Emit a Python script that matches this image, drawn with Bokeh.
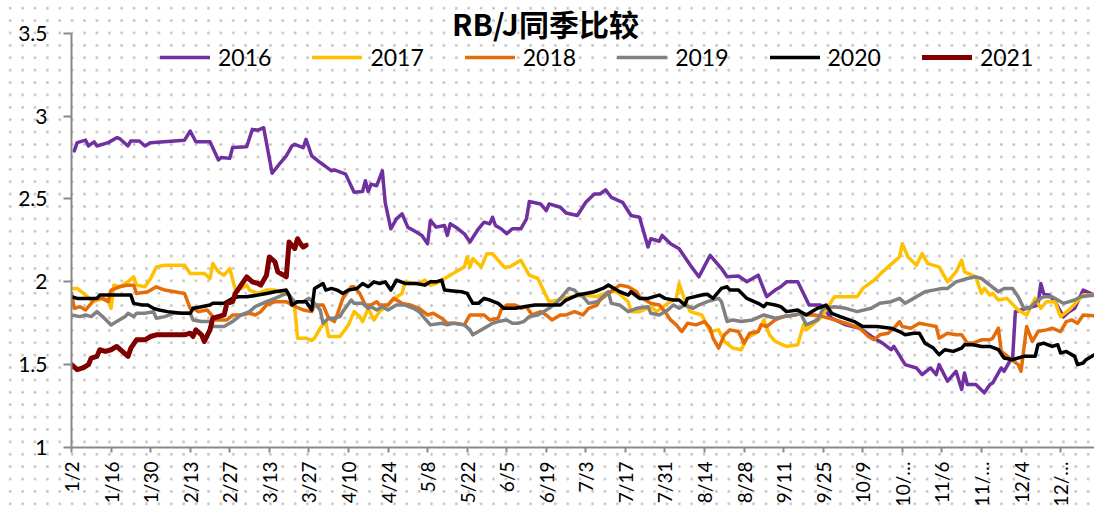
from datetime import date
from bokeh.plotting import figure
from bokeh.models import (Range1d, FixedTicker, CustomJSTickFormatter, Legend, LegendItem, Label)
from bokeh.embed import file_html
from bokeh.resources import INLINE

title_text = "RB/J同季比较"
series_names = ["2016", "2017", "2018", "2019", "2020", "2021"]
series_colors = ["#7030A0", "#FFC000", "#E46C0A", "#808080", "#000000", "#7F0000"]
series_widths = [3.5, 3.5, 3.5, 3.5, 3.5, 5]

tick_dates = ["1/2", "1/16", "1/30", "2/13", "2/27", "3/13", "3/27", "4/10", "4/24", "5/8",
              "5/22", "6/5", "6/19", "7/3", "7/17", "7/31", "8/14", "8/28", "9/11", "9/25",
              "10/9", "10/23", "11/6", "11/20", "12/4", "12/18"]
tick_labels = ["1/2", "1/16", "1/30", "2/13", "2/27", "3/13", "3/27", "4/10", "4/24", "5/8",
               "5/22", "6/5", "6/19", "7/3", "7/17", "7/31", "8/14", "8/28", "9/11", "9/25",
               "10/9", "10/…", "11/6", "11/…", "12/4", "12/…"]
y_ticks = [1, 1.5, 2, 2.5, 3, 3.5]

dates_2016 = ["1/3", "1/4", "1/7", "1/8", "1/10", "1/11", "1/15", "1/18", "1/19", "1/22", "1/23", "1/26", "1/28", "1/30",
              "2/11", "2/13", "2/15", "2/20", "2/23", "2/24", "2/27", "2/28", "3/5", "3/7", "3/9", "3/11", "3/14", "3/17",
              "3/19", "3/21", "3/22", "3/25", "3/26", "3/28", "3/31", "4/2", "4/4", "4/5", "4/9", "4/12", "4/15", "4/16",
              "4/17", "4/18", "4/20", "4/22", "4/23", "4/25", "4/27", "4/29", "5/1", "5/4", "5/6", "5/8", "5/9", "5/11",
              "5/14", "5/15", "5/16", "5/18", "5/21", "5/23", "5/26", "5/28", "5/30", "5/31", "6/1", "6/3", "6/5", "6/7",
              "6/10", "6/12", "6/13", "6/17", "6/19", "6/20", "6/24", "6/26", "6/30", "7/3", "7/6", "7/8", "7/10", "7/12",
              "7/16", "7/19", "7/22", "7/25", "7/26", "7/29", "7/30", "8/2", "8/5", "8/9", "8/12", "8/16", "8/20", "8/22",
              "8/26", "8/29", "9/2", "9/5", "9/8", "9/10", "9/12", "9/16", "9/20", "9/24", "9/28", "10/3", "10/8", "10/13",
              "10/16", "10/19", "10/20", "10/24", "10/28", "10/30", "11/2", "11/4", "11/5", "11/8", "11/11", "11/13", "11/14",
              "11/15", "11/18", "11/21", "11/23", "11/24", "11/27", "11/28", "11/30", "12/1", "12/2", "12/4", "12/10",
              "12/11", "12/12", "12/14", "12/16", "12/19", "12/21", "12/23", "12/26", "12/30"]
vals_2016 = [2.79, 2.84, 2.855, 2.82, 2.845, 2.82, 2.84, 2.87, 2.865, 2.82, 2.85, 2.85, 2.82, 2.84,
             2.855, 2.91, 2.845, 2.845, 2.735, 2.75, 2.745, 2.81, 2.815, 2.92, 2.915, 2.93, 2.655, 2.72,
             2.76, 2.82, 2.83, 2.81, 2.86, 2.76, 2.72, 2.695, 2.67, 2.675, 2.65, 2.54, 2.545, 2.61,
             2.545, 2.59, 2.58, 2.67, 2.48, 2.32, 2.38, 2.41, 2.33, 2.30, 2.28, 2.23, 2.37, 2.33,
             2.34, 2.28, 2.35, 2.33, 2.29, 2.24, 2.32, 2.36, 2.35, 2.39, 2.34, 2.32, 2.29, 2.32,
             2.32, 2.38, 2.485, 2.47, 2.43, 2.47, 2.45, 2.415, 2.40, 2.48, 2.53, 2.53, 2.555, 2.51,
             2.48, 2.40, 2.39, 2.21, 2.26, 2.245, 2.28, 2.23, 2.20, 2.10, 2.03, 2.16, 2.08, 2.03,
             2.035, 2.00, 2.04, 1.91, 1.95, 1.97, 2.00, 2.00, 1.86, 1.86, 1.78, 1.74, 1.72, 1.66,
             1.63, 1.59, 1.61, 1.50, 1.48, 1.44, 1.48, 1.44, 1.50, 1.40, 1.46, 1.35, 1.45,
             1.38, 1.38, 1.33, 1.38, 1.39, 1.48, 1.46, 1.52, 1.53, 1.82, 1.83, 1.86,
             1.99, 1.93, 1.92, 1.88, 1.79, 1.82, 1.84, 1.95, 1.92]

dates_2017 = ["1/2", "1/4", "1/7", "1/9", "1/10", "1/13", "1/15", "1/16", "1/17", "1/19", "1/22", "1/24", "1/25", "1/28",
              "1/30", "2/1", "2/4", "2/11", "2/13", "2/18", "2/20", "2/21", "2/23", "2/25", "2/27", "3/1", "3/3", "3/5",
              "3/6", "3/9", "3/12", "3/15", "3/18", "3/20", "3/22", "3/23", "3/26", "3/28", "3/29", "3/31", "4/2", "4/3",
              "4/7", "4/10", "4/12", "4/14", "4/15", "4/17", "4/19", "4/21", "4/24", "4/25", "4/27", "4/29", "4/30", "5/3",
              "5/5", "5/7", "5/9", "5/11", "5/14", "5/17", "5/21", "5/22", "5/23", "5/24", "5/27", "5/29", "5/31", "6/4",
              "6/6", "6/10", "6/13", "6/16", "6/20", "6/23", "6/25", "6/28", "7/2", "7/7", "7/11", "7/14", "7/18", "7/19",
              "7/22", "7/26", "7/28", "8/1", "8/4", "8/5", "8/7", "8/9", "8/13", "8/16", "8/19", "8/21", "8/24", "8/27",
              "8/29", "9/2", "9/4", "9/6", "9/8", "9/12", "9/16", "9/18", "9/19", "9/24", "9/29", "10/7", "10/9", "10/13",
              "10/16", "10/20", "10/22", "10/23", "10/25", "10/28", "10/30", "11/1", "11/5", "11/8", "11/11", "11/13",
              "11/14", "11/18", "11/20", "11/21", "11/23", "11/24", "11/26", "11/29", "12/3", "12/6", "12/9", "12/11",
              "12/13", "12/16", "12/18", "12/21", "12/26", "12/30"]
vals_2017 = [1.96, 1.96, 1.92, 1.89, 1.88, 1.90, 1.89, 1.84, 1.98, 1.97, 2.00, 2.03, 1.98, 1.97,
             2.02, 2.09, 2.10, 2.10, 2.05, 2.05, 2.02, 2.11, 2.06, 2.04, 2.08, 1.95, 1.96, 1.98,
             1.95, 1.93, 1.95, 1.95, 1.93, 1.92, 1.84, 1.66, 1.66, 1.645, 1.66, 1.72, 1.76, 1.67,
             1.67, 1.74, 1.82, 1.79, 1.76, 1.84, 1.77, 1.82, 1.86, 1.88, 1.91, 1.93, 2.00, 1.99,
             1.99, 2.01, 1.98, 1.99, 2.02, 2.05, 2.09, 2.15, 2.09, 2.14, 2.09, 2.17, 2.17, 2.09,
             2.09, 2.13, 2.04, 2.02, 1.88, 1.89, 1.90, 1.91, 1.92, 1.91, 1.94, 1.94, 1.88, 1.82,
             1.82, 1.85, 1.82, 1.87, 1.90, 1.99, 1.89, 1.82, 1.80, 1.70, 1.71, 1.64, 1.60, 1.59,
             1.66, 1.70, 1.77, 1.68, 1.64, 1.61, 1.62, 1.74, 1.71, 1.78, 1.91, 1.91, 1.96, 2.01,
             2.06, 2.12, 2.15, 2.23, 2.15, 2.10, 2.17, 2.11, 2.09, 2.00, 2.06, 2.13,
             2.06, 2.03, 1.93, 1.96, 1.92, 1.93, 1.89, 1.90, 1.83, 1.80, 1.90, 1.84,
             1.88, 1.88, 1.79, 1.83, 1.92, 1.92]

dates_2018 = ["1/2", "1/3", "1/5", "1/7", "1/9", "1/10", "1/13", "1/15", "1/16", "1/19", "1/22", "1/24", "1/25", "1/29",
              "2/1", "2/4", "2/11", "2/13", "2/14", "2/16", "2/19", "2/21", "2/22", "2/26", "2/28", "3/3", "3/6", "3/8",
              "3/10", "3/12", "3/15", "3/19", "3/21", "3/25", "3/28", "3/29", "4/1", "4/3", "4/5", "4/6", "4/8", "4/11",
              "4/12", "4/14", "4/16", "4/18", "4/20", "4/21", "4/24", "4/26", "4/29", "5/2", "5/5", "5/8", "5/10", "5/13",
              "5/15", "5/18", "5/21", "5/23", "5/26", "5/28", "5/30", "6/2", "6/3", "6/5", "6/8", "6/10", "6/12", "6/14",
              "6/17", "6/19", "6/21", "6/24", "6/26", "6/29", "7/2", "7/4", "7/7", "7/8", "7/11", "7/15", "7/18", "7/21",
              "7/22", "7/26", "7/29", "7/31", "8/2", "8/4", "8/6", "8/8", "8/11", "8/14", "8/16", "8/17", "8/19", "8/21",
              "8/23", "8/26", "8/28", "8/30", "9/2", "9/3", "9/5", "9/8", "9/11", "9/15", "9/17", "9/20", "9/22", "9/25",
              "9/29", "10/3", "10/8", "10/11", "10/13", "10/15", "10/18", "10/20", "10/22", "10/23", "10/26", "10/29",
              "11/1", "11/4", "11/5", "11/8", "11/11", "11/13", "11/15", "11/17", "11/20", "11/23", "11/24", "11/26",
              "11/27", "11/30", "12/3", "12/4", "12/6", "12/8", "12/10", "12/13", "12/15", "12/18", "12/20", "12/22",
              "12/24", "12/26", "12/30"]
vals_2018 = [1.93, 1.84, 1.85, 1.83, 1.87, 1.90, 1.90, 1.88, 1.95, 1.97, 1.98, 1.98, 1.93, 1.94,
             1.97, 1.95, 1.93, 1.84, 1.84, 1.82, 1.83, 1.79, 1.77, 1.77, 1.80, 1.80, 1.81, 1.80,
             1.82, 1.86, 1.88, 1.88, 1.86, 1.83, 1.82, 1.86, 1.86, 1.78, 1.76, 1.80, 1.90, 1.97,
             1.97, 1.93, 1.86, 1.86, 1.88, 1.86, 1.86, 1.90, 1.87, 1.86, 1.84, 1.80, 1.81, 1.78,
             1.75, 1.75, 1.74, 1.80, 1.80, 1.80, 1.77, 1.78, 1.83, 1.86, 1.86, 1.84, 1.85, 1.80,
             1.82, 1.80, 1.77, 1.80, 1.80, 1.82, 1.80, 1.84, 1.86, 1.89, 1.93, 1.98, 1.97, 1.94,
             1.91, 1.87, 1.86, 1.82, 1.77, 1.74, 1.70, 1.75, 1.74, 1.76, 1.72, 1.66, 1.60, 1.68,
             1.71, 1.70, 1.63, 1.69, 1.70, 1.74, 1.73, 1.77, 1.79, 1.80, 1.81, 1.80, 1.80, 1.79,
             1.77, 1.75, 1.72, 1.67, 1.65, 1.68, 1.69, 1.72, 1.76, 1.73, 1.72, 1.75,
             1.74, 1.73, 1.66, 1.69, 1.68, 1.68, 1.63, 1.63, 1.65, 1.65, 1.66, 1.72,
             1.58, 1.54, 1.50, 1.46, 1.73, 1.64, 1.70, 1.71, 1.72, 1.70, 1.76, 1.77,
             1.75, 1.80, 1.795]

dates_2019 = ["1/2", "1/5", "1/7", "1/9", "1/11", "1/13", "1/16", "1/18", "1/21", "1/22", "1/24", "1/25", "1/28", "1/31",
              "2/1", "2/4", "2/7", "2/10", "2/13", "2/14", "2/17", "2/20", "2/21", "2/25", "2/28", "3/3", "3/6", "3/8",
              "3/12", "3/15", "3/19", "3/20", "3/22", "3/25", "3/27", "3/29", "3/31", "4/1", "4/3", "4/5", "4/7", "4/8",
              "4/11", "4/12", "4/15", "4/17", "4/18", "4/20", "4/22", "4/24", "4/27", "4/30", "5/3", "5/5", "5/7", "5/9",
              "5/13", "5/15", "5/17", "5/21", "5/23", "5/24", "5/26", "5/28", "5/31", "6/2", "6/5", "6/7", "6/9", "6/11",
              "6/13", "6/16", "6/18", "6/20", "6/23", "6/25", "6/27", "6/29", "6/30", "7/2", "7/4", "7/7", "7/9", "7/11",
              "7/12", "7/15", "7/18", "7/21", "7/25", "7/26", "7/29", "8/1", "8/3", "8/5", "8/7", "8/10", "8/12", "8/15",
              "8/19", "8/20", "8/22", "8/24", "8/27", "8/31", "9/4", "9/8", "9/11", "9/15", "9/17", "9/19", "9/23", "9/25",
              "9/29", "10/3", "10/7", "10/12", "10/15", "10/19", "10/22", "10/24", "10/27", "10/31", "11/3", "11/6",
              "11/8", "11/11", "11/15", "11/18", "11/20", "11/23", "11/26", "11/28", "12/1", "12/3", "12/5", "12/7",
              "12/10", "12/12", "12/15", "12/19", "12/23", "12/25", "12/30"]
vals_2019 = [1.80, 1.79, 1.80, 1.79, 1.82, 1.79, 1.74, 1.76, 1.79, 1.81, 1.79, 1.81, 1.81, 1.82,
             1.78, 1.79, 1.81, 1.81, 1.81, 1.77, 1.76, 1.76, 1.73, 1.73, 1.76, 1.80, 1.82, 1.85,
             1.88, 1.90, 1.93, 1.92, 1.88, 1.88, 1.90, 1.87, 1.83, 1.75, 1.78, 1.78, 1.79, 1.82,
             1.89, 1.87, 1.87, 1.84, 1.85, 1.83, 1.85, 1.83, 1.86, 1.86, 1.84, 1.82, 1.78, 1.74,
             1.75, 1.74, 1.75, 1.74, 1.71, 1.68, 1.70, 1.72, 1.75, 1.76, 1.77, 1.75, 1.75, 1.76,
             1.79, 1.80, 1.82, 1.84, 1.88, 1.92, 1.96, 1.95, 1.93, 1.91, 1.87, 1.88, 1.91, 1.94,
             1.87, 1.86, 1.82, 1.84, 1.85, 1.81, 1.80, 1.83, 1.86, 1.84, 1.86, 1.84, 1.86, 1.88,
             1.90, 1.88, 1.76, 1.77, 1.76, 1.77, 1.80, 1.78, 1.79, 1.80, 1.81, 1.74, 1.77, 1.84,
             1.85, 1.84, 1.82, 1.84, 1.87, 1.88, 1.90, 1.87, 1.90, 1.94, 1.95, 1.96,
             1.96, 2.00, 2.02, 2.03, 2.02, 1.98, 1.94, 1.96, 1.96, 1.91, 1.84, 1.84,
             1.89, 1.91, 1.91, 1.87, 1.89, 1.91, 1.92]

dates_2020 = ["1/2", "1/4", "1/8", "1/11", "1/12", "1/15", "1/21", "1/23", "1/24", "1/27", "1/29", "1/31", "2/2", "2/5",
              "2/10", "2/13", "2/14", "2/17", "2/20", "2/21", "2/25", "2/27", "2/28", "3/2", "3/5", "3/9", "3/12", "3/15",
              "3/19", "3/20", "3/21", "3/23", "3/26", "3/28", "3/29", "4/1", "4/2", "4/4", "4/6", "4/8", "4/10", "4/13",
              "4/15", "4/17", "4/19", "4/21", "4/23", "4/25", "4/27", "4/30", "5/4", "5/7", "5/9", "5/11", "5/13", "5/14",
              "5/17", "5/20", "5/22", "5/24", "5/26", "5/28", "5/30", "6/2", "6/4", "6/8", "6/11", "6/15", "6/19", "6/24",
              "6/26", "6/30", "7/3", "7/6", "7/9", "7/11", "7/15", "7/18", "7/19", "7/22", "7/25", "7/29", "7/31", "8/3",
              "8/5", "8/7", "8/8", "8/13", "8/15", "8/17", "8/20", "8/22", "8/23", "8/26", "8/29", "9/2", "9/4", "9/5",
              "9/8", "9/10", "9/12", "9/16", "9/19", "9/23", "9/26", "9/28", "10/1", "10/6", "10/9", "10/14", "10/19",
              "10/22", "10/24", "10/27", "10/29", "10/31", "11/3", "11/5", "11/7", "11/10", "11/13", "11/14", "11/17",
              "11/20", "11/23", "11/26", "11/28", "12/1", "12/5", "12/9", "12/10", "12/12", "12/15", "12/17", "12/18",
              "12/20", "12/23", "12/24", "12/26", "12/27", "12/30"]
vals_2020 = [1.91, 1.90, 1.90, 1.90, 1.92, 1.92, 1.92, 1.92, 1.87, 1.86, 1.86, 1.84, 1.83, 1.82,
             1.81, 1.81, 1.84, 1.85, 1.86, 1.87, 1.87, 1.89, 1.90, 1.91, 1.91, 1.92, 1.93, 1.94,
             1.95, 1.92, 1.86, 1.88, 1.88, 1.83, 1.96, 1.99, 1.95, 1.96, 1.95, 1.93, 1.95, 1.96,
             1.99, 1.97, 2.00, 1.99, 2.00, 1.95, 2.01, 1.99, 1.99, 1.98, 2.00, 2.00, 2.01, 1.95,
             1.945, 1.94, 1.93, 1.87, 1.87, 1.90, 1.89, 1.87, 1.84, 1.84, 1.85, 1.86, 1.86, 1.86,
             1.89, 1.92, 1.93, 1.94, 1.96, 1.98, 1.94, 1.92, 1.94, 1.90, 1.90, 1.92, 1.90, 1.89,
             1.89, 1.86, 1.90, 1.92, 1.925, 1.90, 1.96, 1.97, 1.95, 1.95, 1.90, 1.87, 1.85, 1.87,
             1.86, 1.85, 1.82, 1.83, 1.80, 1.84, 1.86, 1.81, 1.79, 1.76, 1.73, 1.73, 1.72,
             1.70, 1.68, 1.69, 1.69, 1.63, 1.60, 1.56, 1.59, 1.58, 1.60, 1.62, 1.62,
             1.61, 1.61, 1.59, 1.54, 1.53, 1.55, 1.55, 1.62, 1.63, 1.61, 1.62, 1.57,
             1.58, 1.55, 1.50, 1.51, 1.53, 1.56]

dates_2021 = ["1/2", "1/4", "1/6", "1/8", "1/9", "1/11", "1/12", "1/14", "1/16", "1/18", "1/20", "1/22", "1/23", "1/25",
              "1/28", "1/30", "2/1", "2/5", "2/11", "2/13", "2/14", "2/15", "2/17", "2/18", "2/20", "2/21", "2/23", "2/25",
              "2/26", "2/28", "3/1", "3/3", "3/5", "3/7", "3/9", "3/10", "3/12", "3/13", "3/15", "3/16", "3/18", "3/19",
              "3/20", "3/22", "3/23", "3/24", "3/25", "3/26"]
vals_2021 = [1.50, 1.47, 1.48, 1.50, 1.54, 1.55, 1.59, 1.58, 1.59, 1.61, 1.58, 1.55, 1.60, 1.65,
             1.65, 1.67, 1.68, 1.68, 1.68, 1.69, 1.67, 1.71, 1.68, 1.64, 1.71, 1.78, 1.79, 1.80,
             1.87, 1.88, 1.93, 1.98, 2.03, 2.00, 1.99, 1.98, 2.04, 2.15, 2.12, 2.06, 2.04, 2.03,
             2.24, 2.20, 2.26, 2.23, 2.21, 2.22]

series_dates = [dates_2016, dates_2017, dates_2018, dates_2019, dates_2020, dates_2021]
series_vals = [vals_2016, vals_2017, vals_2018, vals_2019, vals_2020, vals_2021]


def day_of_year(md):
    m, d = (int(t) for t in md.split("/"))
    return (date(2021, m, d) - date(2021, 1, 1)).days


FONT = "Lato"
Y_MIN, Y_MAX = y_ticks[0], y_ticks[-1]
# frame reaches the top of the canvas so the title is drawn inside it; the axis line stops at 3.5
y_top = Y_MAX + 33 * (Y_MAX - Y_MIN) / 417

p = figure(width=1094, height=509, output_backend="svg", toolbar_location=None,
           x_range=Range1d(1, 363), y_range=Range1d(Y_MIN, y_top),
           min_border_left=71, min_border_top=0, min_border_bottom=59, min_border_right=0)
p.background_fill_alpha = 0
p.border_fill_alpha = 0
p.outline_line_color = None
p.xgrid.visible = False
p.ygrid.visible = False
p.styles = {
    "background-image": "radial-gradient(circle, #c4c4c4 1.1px, rgba(255,255,255,0) 1.6px)",
    "background-size": "12.4px 12.4px",
    "background-position": "4px 2px",
}

tick_pos = [day_of_year(s) for s in tick_dates]
p.xaxis.ticker = FixedTicker(ticks=tick_pos)
p.xaxis.major_label_overrides = {t: lab for t, lab in zip(tick_pos, tick_labels)}
p.xaxis.major_label_orientation = 1.5707963
p.xaxis.major_label_text_font = FONT
p.xaxis.major_label_text_font_size = "19px"
p.xaxis.major_label_text_color = "#000000"
p.xaxis.major_label_standoff = 9
p.xaxis.major_tick_out = 5
p.xaxis.major_tick_in = 0
p.xaxis.minor_tick_line_color = None
p.xaxis.axis_line_color = "#898989"
p.xaxis.axis_line_width = 2
p.xaxis.major_tick_line_color = "#898989"
p.xaxis.major_tick_line_width = 2

p.yaxis.ticker = FixedTicker(ticks=y_ticks)
p.yaxis.bounds = (Y_MIN, Y_MAX)
p.yaxis.formatter = CustomJSTickFormatter(code="return tick.toString();")
p.yaxis.major_label_text_font = FONT
p.yaxis.major_label_text_font_size = "21px"
p.yaxis.major_label_text_color = "#000000"
p.yaxis.major_label_standoff = 16
p.yaxis.major_tick_out = 8
p.yaxis.major_tick_in = 0
p.yaxis.minor_tick_line_color = None
p.yaxis.axis_line_color = "#898989"
p.yaxis.axis_line_width = 2
p.yaxis.major_tick_line_color = "#898989"
p.yaxis.major_tick_line_width = 2

items = []
for name, ds, vs, col, w in zip(series_names, series_dates, series_vals, series_colors, series_widths):
    xs = [day_of_year(s) for s in ds]
    r = p.line(xs, vs, line_color=col, line_width=w, line_join="round", line_cap="round")
    items.append(LegendItem(label=name, renderers=[r]))

legend = Legend(items=items, orientation="horizontal", location=(89, 376),
                glyph_width=50, glyph_height=20, label_width=52, label_standoff=8, spacing=41,
                padding=0, margin=0, border_line_alpha=0, background_fill_alpha=0,
                label_text_font=FONT, label_text_font_size="23px", label_text_color="#000000")
p.add_layout(legend, "center")

title = Label(x=474, y=425, x_units="screen", y_units="screen", text=title_text,
              text_font="Noto Sans CJK SC", text_font_style="bold", text_font_size="30px",
              text_align="center", text_baseline="middle", text_color="#000000")
p.add_layout(title)

open("out.html", "w").write(file_html(p, INLINE))
